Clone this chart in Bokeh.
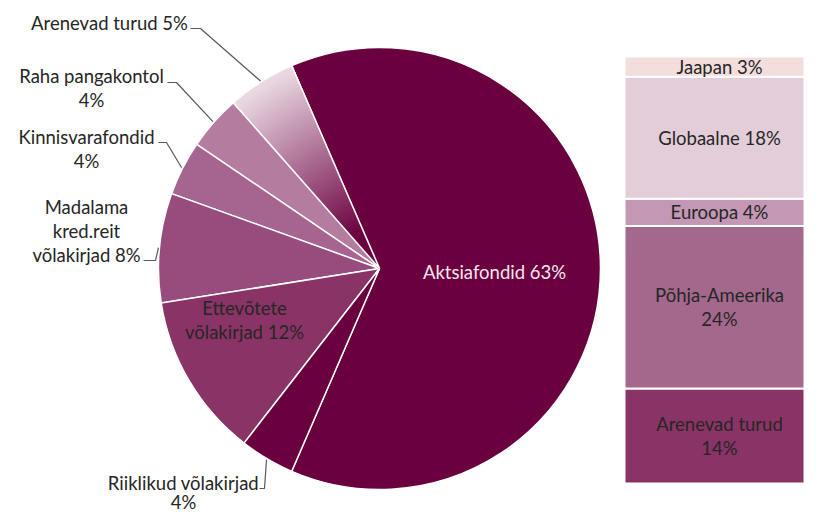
import math
from bokeh.plotting import figure
from bokeh.models import Range1d
from bokeh.core.properties import value
from bokeh.embed import file_html
from bokeh.resources import INLINE

# ---------------- data ----------------
pie_names = ["Aktsiafondid", "Arenevad turud", "Raha pangakontol", "Kinnisvarafondid",
             "Madalama kred.reit võlakirjad", "Ettevõtete võlakirjad", "Riiklikud võlakirjad"]
pie_values = [63, 5, 4, 4, 8, 12, 4]
pie_label_templates = ["Aktsiafondid {v}%", "Arenevad turud {v}%", "Raha pangakontol\n{v}%",
                       "Kinnisvarafondid\n{v}%", "Madalama\nkred.reit\nvõlakirjad {v}%",
                       "Ettevõtete\nvõlakirjad {v}%", "Riiklikud võlakirjad\n{v}%"]
pie_colors = ["#6b003f", None, "#b47d9f", "#a56590", "#984b7d", "#8a3366", "#6b003f"]

bar_names = ["Arenevad turud", "Põhja-Ameerika", "Euroopa", "Globaalne", "Jaapan"]
bar_values = [14, 24, 4, 18, 3]
bar_label_templates = ["Arenevad turud\n{v}%", "Põhja-Ameerika\n{v}%", "Euroopa {v}%",
                       "Globaalne {v}%", "Jaapan {v}%"]
bar_colors = ["#8a3366", "#a4688d", "#c497b4", "#e3cdd9", "#f3dddd"]

# ---------------- layout (screen pixel coords, converted to y-up) ----------------
W, H = 804, 514
def Y(py):
    return H - py

FONT = "Lato"
FS = "18.5px"
TXT = "#262626"
LINE_H = 24

p = figure(width=W, height=H, output_backend="svg", toolbar_location=None,
           x_range=Range1d(0, W), y_range=Range1d(0, H),
           min_border=0, outline_line_color=None)
p.axis.visible = False
p.grid.visible = False
p.background_fill_color = "white"

cx, cy, R = 379, Y(268), 221

# angles
total = sum(pie_values)
theta0 = 2 * math.pi * pie_values[0] / total
starts, ends = [], []
a = -theta0 / 2
for v in pie_values:
    da = 2 * math.pi * v / total
    starts.append(a)
    ends.append(a + da)
    a += da

# solid slices
solid_idx = [i for i, c in enumerate(pie_colors) if c is not None]
p.wedge(x=cx, y=cy, radius=R,
        start_angle=[starts[i] for i in solid_idx], end_angle=[ends[i] for i in solid_idx],
        fill_color=[pie_colors[i] for i in solid_idx], line_color="white", line_width=1.5)

# gradient slice (radial gradient from dark centre to light rim)
gi = pie_colors.index(None)
N = 60
dark = (0x6b, 0x00, 0x3f)
light = (0xea, 0xd8, 0xe3)
inner, outer, cols = [], [], []
for k in range(N):
    t0, t1 = k / N, (k + 1) / N
    tm = (t0 + t1) / 2
    f = min(1.0, max(0.0, (tm - 0.18) / 0.8))
    c = tuple(int(dark[j] + (light[j] - dark[j]) * f) for j in range(3))
    inner.append(R * t0)
    outer.append(R * t1)
    cols.append("#%02x%02x%02x" % c)
p.annular_wedge(x=cx, y=cy, inner_radius=inner, outer_radius=outer,
                start_angle=starts[gi], end_angle=ends[gi],
                fill_color=cols, line_color=cols, line_width=1.2)
p.wedge(x=cx, y=cy, radius=R, start_angle=starts[gi], end_angle=ends[gi],
        fill_color=None, line_color="white", line_width=1.5)

# pie labels: (center x, first line y in screen px), line spacing, color
label_pos = [(494, 271), (109, 22), (91, 75), (86, 136), (86, 206), (244, 307), (183, 482)]
label_lh = [LINE_H, LINE_H, LINE_H, LINE_H, LINE_H, LINE_H, 19]
label_col = ["#f3e6ee", TXT, TXT, TXT, TXT, TXT, TXT]
lx, ly, lt, lc = [], [], [], []
for i, tmpl in enumerate(pie_label_templates):
    lines = tmpl.format(v=pie_values[i]).split("\n")
    x0, y0 = label_pos[i]
    for j, s in enumerate(lines):
        lx.append(x0)
        ly.append(Y(y0 + j * label_lh[i]))
        lt.append(s)
        lc.append(label_col[i])
p.text(x=lx, y=ly, text=lt, text_color=lc, text_font=value(FONT), text_font_size=FS,
       text_align="center", text_baseline="middle")

# leader lines: label side elbow points (screen px) -> slice rim at mid angle
leader_elbows = {1: [(190, 28), (200, 28)], 2: [(167, 82), (176, 82)],
                 3: [(158, 142), (166, 142)], 4: [(143, 260), (155, 260)],
                 6: [(259, 488), (264, 488)]}
xs, ys = [], []
for i, pts in leader_elbows.items():
    mid = (starts[i] + ends[i]) / 2
    ex = cx + (R + 1) * math.cos(mid)
    ey = cy + (R + 1) * math.sin(mid)
    xs.append([pt[0] for pt in pts] + [ex])
    ys.append([Y(pt[1]) for pt in pts] + [ey])
p.multi_line(xs=xs, ys=ys, line_color="#595959", line_width=1.2)

# ---------------- stacked bar ----------------
bx0, bx1 = 624, 804
by0, by1 = Y(483), Y(56)
scale = (by1 - by0) / sum(bar_values)
bottoms, tops = [], []
acc = 0
for v in bar_values:
    bottoms.append(by0 + acc * scale)
    acc += v
    tops.append(by0 + acc * scale)
p.quad(left=bx0, right=bx1, bottom=bottoms, top=tops, fill_color=bar_colors,
       line_color="white", line_width=2)

bx, byy, bt = [], [], []
for i, tmpl in enumerate(bar_label_templates):
    lines = tmpl.format(v=bar_values[i]).split("\n")
    mid = (bottoms[i] + tops[i]) / 2
    n = len(lines)
    for j, s in enumerate(lines):
        bx.append(719)
        byy.append(mid + (n - 1) * LINE_H / 2 - j * LINE_H)
        bt.append(s)
p.text(x=bx, y=byy, text=bt, text_color=TXT, text_font=value(FONT), text_font_size=FS,
       text_align="center", text_baseline="middle")

open("out.html", "w").write(file_html(p, INLINE))
